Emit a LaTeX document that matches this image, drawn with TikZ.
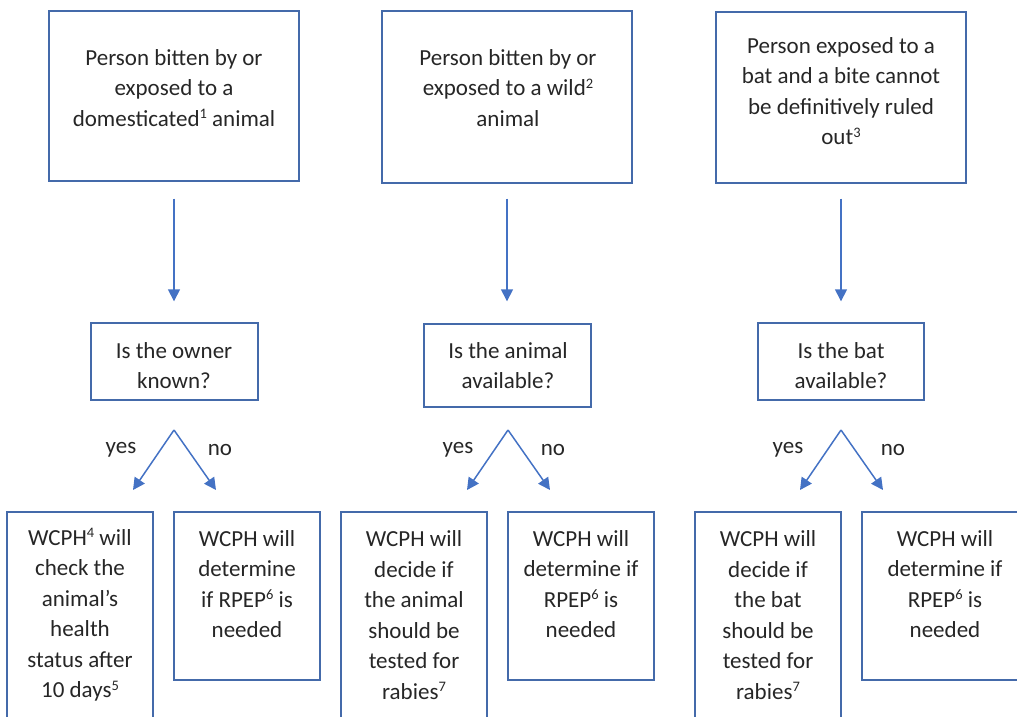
\documentclass[tikz,border=0pt]{standalone}
\usepackage{fontspec}
\setmainfont{Carlito}
\usetikzlibrary{arrows.meta}
\definecolor{boxc}{RGB}{68,106,170}
\definecolor{arrc}{RGB}{68,114,196}
\definecolor{txtc}{RGB}{38,38,38}
\newcommand{\supn}[1]{\raisebox{0.33em}{\fontsize{14.5}{14.5}\selectfont #1}}
\begin{document}
\begin{tikzpicture}[x=1pt,y=-1pt,
  box/.style={draw=boxc,line width=1.4pt,inner sep=0pt},
  txt/.style={text=txtc,align=center,inner sep=0pt,font=\fontsize{23}{30.5}\selectfont},
  lbl/.style={text=txtc,inner sep=0pt,font=\fontsize{23}{30.5}\selectfont},
  arr/.style={draw=arrc,line width=1.5pt,-{Triangle[width=12pt,length=12pt]}}]
\useasboundingbox (0,0) rectangle (1017,717);
% top boxes
\node[box,minimum width=250,minimum height=170] (t1) at (174,96) {};
\node[box,minimum width=250,minimum height=172] (t2) at (507,97) {};
\node[box,minimum width=250,minimum height=171] (t3) at (841,97.5) {};
\node[txt] (tt1) at (174,88) {Person bitten by or\\exposed to a\\domesticated\supn{1} animal};
\node[txt] (tt2) at (508,88) {Person bitten by or\\exposed to a wild\supn{2}\\animal};
\node[txt] (tt3) at (841,91) {Person exposed to a\\bat and a bite cannot\\be definitively ruled\\out\supn{3}};
% question boxes
\node[box,minimum width=167,minimum height=77] (q1) at (174.5,361.5) {};
\node[box,minimum width=167,minimum height=83] (q2) at (507.5,365.5) {};
\node[box,minimum width=166,minimum height=77] (q3) at (841,361.5) {};
\node[txt] (qt1) at (174,365.5) {Is the owner\\known?};
\node[txt] (qt2) at (508,365.5) {Is the animal\\available?};
\node[txt] (qt3) at (841,365.5) {Is the bat\\available?};
% vertical arrows
\draw[arr,shorten <=17pt,shorten >=21pt] (t1.south) -- (q1.north -| t1.south);
\draw[arr,shorten <=15pt,shorten >=22pt] (t2.south) -- (q2.north -| t2.south);
\draw[arr,shorten <=15pt,shorten >=21pt] (t3.south) -- (q3.north -| t3.south);
% forks
\coordinate (a1) at (174,430); \coordinate (y1) at (133,490); \coordinate (n1) at (216,490);
\coordinate (a2) at (508,430); \coordinate (y2) at (467,490); \coordinate (n2) at (550,490);
\coordinate (a3) at (841,430); \coordinate (y3) at (800,490); \coordinate (n3) at (883,490);
\draw[arr] (a1) -- (y1); \draw[arr] (a1) -- (n1);
\draw[arr] (a2) -- (y2); \draw[arr] (a2) -- (n2);
\draw[arr] (a3) -- (y3); \draw[arr] (a3) -- (n3);
\node[lbl] (ly1) at (121,450) {yes}; \node[lbl] (ln1) at (220,450) {no};
\node[lbl] (ly2) at (458,450) {yes}; \node[lbl] (ln2) at (553,450) {no};
\node[lbl] (ly3) at (788,450) {yes}; \node[lbl] (ln3) at (893,450) {no};
% bottom boxes
\node[box,minimum width=146,minimum height=230] (b1) at (80,627) {};
\node[box,minimum width=146,minimum height=168] (b2) at (247,596) {};
\node[box,minimum width=146,minimum height=230] (b3) at (414,627) {};
\node[box,minimum width=146,minimum height=168] (b4) at (581,596) {};
\node[box,minimum width=146,minimum height=230] (b5) at (768,627) {};
\node[box,minimum width=166,minimum height=168] (b6) at (945,596) {};
\node[txt] (bt1) at (80,615) {WCPH\supn{4} will\\check the\\animal’s\\health\\status after\\10 days\supn{5}};
\node[txt] (bt2) at (247,584) {WCPH will\\determine\\if RPEP\supn{6} is\\needed};
\node[txt] (bt3) at (414,615) {WCPH will\\decide if\\the animal\\should be\\tested for\\rabies\supn{7}};
\node[txt] (bt4) at (581,584) {WCPH will\\determine if\\RPEP\supn{6} is\\needed};
\node[txt] (bt5) at (768,615) {WCPH will\\decide if\\the bat\\should be\\tested for\\rabies\supn{7}};
\node[txt] (bt6) at (945,584) {WCPH will\\determine if\\RPEP\supn{6} is\\needed};
\end{tikzpicture}
\end{document}
